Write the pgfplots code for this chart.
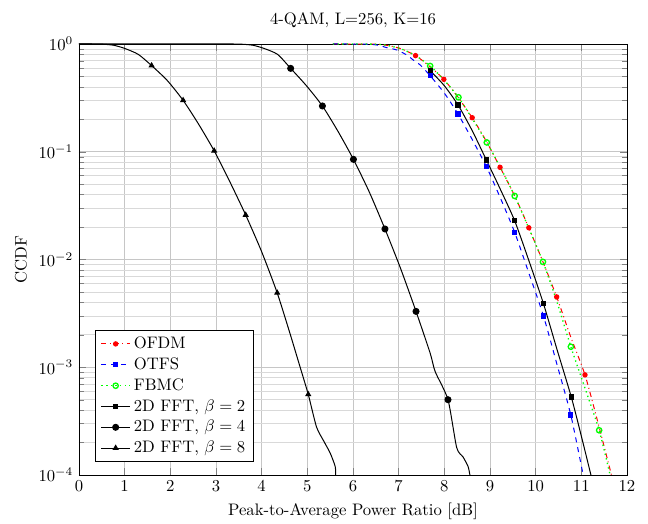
\documentclass[border=0pt]{standalone}
\usepackage{pgfplots}
\pgfplotsset{compat=1.18}

\begin{document}
\begin{tikzpicture}
\begin{semilogyaxis}[
  scale only axis,
  width=328.8pt,
  height=258.6pt,
  xmin=0, xmax=12,
  ymin=1e-4, ymax=1,
  xtick={0,1,...,12},
  title={4-QAM, L=256, K=16},
  xlabel={Peak-to-Average Power Ratio [dB]},
  ylabel={CCDF},
  grid=both,
  major grid style={draw=gray!45},
  minor grid style={draw=gray!30},
  legend pos=south west,
  legend cell align=left,
  legend style={draw=black, fill=white},
  every axis plot/.append style={legend image post style={mark indices={2}}},
]
% OFDM
\addplot[red, semithick, dash dot, mark=*, mark size=1.3pt, mark options={solid},
  smooth, tension=0.4, mark indices={5,7,9,11,13,15,17}] coordinates {
  (5.56,1.0) (6.3,0.998) (6.66,0.985) (7.03,0.91) (7.37,0.78) (7.68,0.62)
  (7.99,0.47) (8.30,0.32) (8.61,0.207) (8.92,0.125) (9.22,0.0717) (9.54,0.039)
  (9.85,0.0197) (10.16,0.0095) (10.46,0.0045) (10.77,0.0019) (11.08,0.00085)
  (11.37,0.0003) (11.66,0.0001)
};
% OTFS
\addplot[blue, semithick, dashed, mark=square*, mark size=1.3pt, mark options={solid},
  smooth, tension=0.4, mark indices={9,11,13,15,17,19}] coordinates {
  (5.56,1.0) (6.2,0.998) (6.52,0.98) (6.74,0.925) (6.96,0.88) (7.18,0.79)
  (7.32,0.71) (7.47,0.64) (7.69,0.508) (8.0,0.35) (8.30,0.224) (8.61,0.13)
  (8.92,0.073) (9.23,0.037) (9.54,0.0179) (9.85,0.0075) (10.17,0.003)
  (10.47,0.00105) (10.77,0.00036) (11.04,0.0001)
};
% FBMC
\addplot[green, thick, dotted, mark=o, mark size=1.6pt, mark options={solid},
  smooth, tension=0.4, mark indices={6,8,10,12,14,16,18}] coordinates {
  (5.56,1.0) (6.3,0.998) (6.66,0.985) (7.03,0.91) (7.37,0.78) (7.69,0.625)
  (8.0,0.46) (8.31,0.32) (8.62,0.20) (8.93,0.122) (9.24,0.07) (9.54,0.0389)
  (9.85,0.0195) (10.16,0.0095) (10.47,0.004) (10.77,0.00155) (11.08,0.00064)
  (11.39,0.00026) (11.63,0.0001)
};
% 2D FFT, beta=2
\addplot[black, semithick, mark=square*, mark size=1.3pt,
  smooth, tension=0.4, mark indices={1,3,5,7,9,11}] coordinates {
  (7.69,0.566) (8.0,0.41) (8.30,0.272) (8.61,0.157) (8.92,0.084) (9.23,0.0445)
  (9.54,0.0229) (9.85,0.0098) (10.17,0.0039) (10.47,0.00145) (10.78,0.00053)
  (11.0,0.00023) (11.21,0.0001)
};
% 2D FFT, beta=4
\addplot[black, semithick, mark=*, mark size=1.8pt,
  smooth, tension=0.4, mark indices={7,9,11,13,15,18}] coordinates {
  (0,1.0) (3.0,1.0) (3.5,0.998) (3.8,0.975) (4.05,0.91) (4.35,0.80)
  (4.635,0.594) (4.98,0.41) (5.33,0.266) (5.67,0.155) (6.01,0.085) (6.36,0.042)
  (6.70,0.0192) (7.04,0.0083) (7.38,0.0033) (7.69,0.00135) (7.80,0.00091)
  (8.08,0.0005) (8.27,0.00018) (8.41,0.000147) (8.52,0.00012) (8.56,0.0001)
};
% 2D FFT, beta=8
\addplot[black, semithick, mark=triangle*, mark size=1.6pt,
  smooth, tension=0.4, mark indices={6,8,10,12,14,17}] coordinates {
  (0,1.0) (0.45,0.998) (0.75,0.975) (1.0,0.91) (1.3,0.80) (1.59,0.63)
  (1.93,0.46) (2.28,0.30) (2.62,0.18) (2.96,0.102) (3.3,0.053) (3.65,0.0259)
  (4.0,0.0118) (4.34,0.0049) (4.62,0.00206) (4.84,0.00101) (5.02,0.00056)
  (5.20,0.00028) (5.35,0.00021) (5.50,0.00016) (5.61,0.00012) (5.62,0.0001)
};
\legend{OFDM, OTFS, FBMC, {2D FFT, $\beta=2$}, {2D FFT, $\beta=4$}, {2D FFT, $\beta=8$}}
\end{semilogyaxis}
\pgfresetboundingbox
\path (current axis.south west) ++(-47.4pt,-28.8pt) rectangle ++(388.8pt,313.8pt);
\end{tikzpicture}
\end{document}
